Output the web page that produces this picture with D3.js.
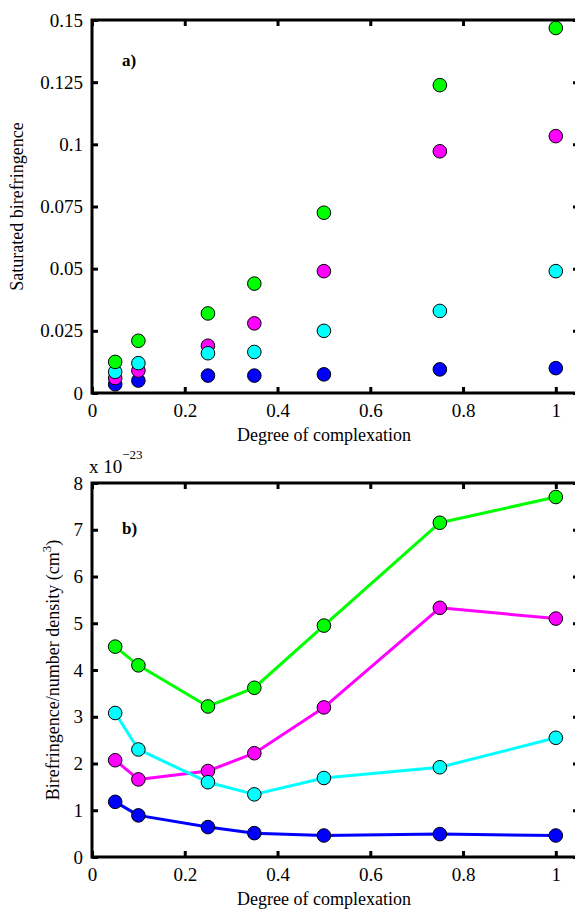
<!DOCTYPE html>
<html>
<head>
<meta charset="utf-8">
<script src="https://cdn.jsdelivr.net/npm/d3@7"></script>
<style>
  body { margin: 0; background: white; }
</style>
</head>
<body>
<div id="chart"></div>
<script>
// Degree of complexation (x values shared by every series)
const degree = [0.05, 0.1, 0.25, 0.35, 0.5, 0.75, 1]

// Panel a) saturated birefringence
const satGreen   = [0.0125, 0.021, 0.032, 0.044, 0.0725, 0.1238, 0.1468]
const satMagenta = [0.0060, 0.009, 0.019, 0.028, 0.0490, 0.0972, 0.1033]
const satCyan    = [0.0085, 0.012, 0.016, 0.0165, 0.0250, 0.0330, 0.0490]
const satBlue    = [0.0035, 0.005, 0.007, 0.0070, 0.0075, 0.0095, 0.0100]

// Panel b) birefringence / number density, in units of 1e-23 cm^3
const bndGreen   = [4.50, 4.10, 3.22, 3.62, 4.95, 7.15, 7.70]
const bndMagenta = [2.07, 1.66, 1.84, 2.22, 3.20, 5.33, 5.10]
const bndCyan    = [3.08, 2.30, 1.60, 1.34, 1.69, 1.92, 2.55]
const bndBlue    = [1.18, 0.89, 0.64, 0.51, 0.46, 0.49, 0.46]

const xTicks = [0, 0.2, 0.4, 0.6, 0.8, 1]
const xTickLabels = ["0", "0.2", "0.4", "0.6", "0.8", "1"]
const yTicksA = [0, 0.025, 0.05, 0.075, 0.1, 0.125, 0.15]
const yTickLabelsA = ["0", "0.025", "0.05", "0.075", "0.1", "0.125", "0.15"]
const yTicksB = [0, 1, 2, 3, 4, 5, 6, 7, 8]

const colors = {green: "#00ff00", magenta: "#ff00ff", cyan: "#00ffff", blue: "#0000ff"}

const FONT = "'Liberation Serif', 'Times New Roman', Times, 'DejaVu Serif', serif"

const W = 575, H = 909
const svg = d3.select("#chart").append("svg")
    .attr("width", W)
    .attr("height", H)
    .style("font-family", FONT)

const left = 92, right = 579

const x = d3.scaleLinear().domain([0, 1.05]).range([left, right])

function txt(sel, size) {
  return sel.style("font-family", FONT).style("font-size", size + "px").attr("fill", "#000")
}

function panel(opts) {
  const y = d3.scaleLinear().domain(opts.ydomain).range([opts.bottom, opts.top])
  const g = svg.append("g")

  // box
  g.append("rect")
      .attr("x", left).attr("y", opts.top)
      .attr("width", right - left).attr("height", opts.bottom - opts.top)
      .attr("fill", "none").attr("stroke", "#000").attr("stroke-width", 3)

  const fmtX = (d, i) => xTickLabels[i]
  const bottomAx = g.append("g")
      .attr("transform", `translate(0,${opts.bottom})`)
      .call(d3.axisBottom(x).tickValues(xTicks).tickFormat(fmtX).tickSizeInner(-6).tickSizeOuter(0).tickPadding(11))
  const topAx = g.append("g")
      .attr("transform", `translate(0,${opts.top})`)
      .call(d3.axisTop(x).tickValues(xTicks).tickFormat("").tickSizeInner(-6).tickSizeOuter(0))
  const leftAx = g.append("g")
      .attr("transform", `translate(${left},0)`)
      .call(d3.axisLeft(y).tickValues(opts.yticks).tickFormat(opts.yfmt).tickSizeInner(-6).tickSizeOuter(0).tickPadding(9))
  const rightAx = g.append("g")
      .attr("transform", `translate(${right},0)`)
      .call(d3.axisRight(y).tickValues(opts.yticks).tickFormat("").tickSizeInner(-6).tickSizeOuter(0))

  ;[bottomAx, topAx, leftAx, rightAx].forEach(a => {
    a.attr("font-family", null).attr("font-size", null)
    a.select(".domain").remove()
    a.selectAll(".tick line").attr("stroke", "#000").attr("stroke-width", 3)
    a.selectAll(".tick text").call(txt, 19)
  })

  // x title
  g.append("text")
      .attr("x", 324).attr("y", opts.bottom + 48)
      .attr("text-anchor", "middle")
      .call(txt, 18)
      .text("Degree of complexation")

  // panel letter
  g.append("text")
      .attr("x", 122).attr("y", opts.top + opts.letterDy)
      .call(txt, 17).style("font-weight", "bold")
      .text(opts.letter)

  const series = g.append("g")
  opts.series.forEach(s => {
    const pts = degree.map((d, i) => ({x: d, y: s.values[i]}))
    if (opts.lines) {
      series.append("path")
          .datum(pts)
          .attr("fill", "none")
          .attr("stroke", s.color)
          .attr("stroke-width", 3)
          .attr("stroke-linejoin", "round")
          .attr("d", d3.line().x(d => x(d.x)).y(d => y(d.y)))
    }
  })
  opts.series.forEach(s => {
    const pts = degree.map((d, i) => ({x: d, y: s.values[i]}))
    series.selectAll(null)
      .data(pts)
      .join("circle")
        .attr("cx", d => x(d.x))
        .attr("cy", d => y(d.y))
        .attr("r", 6.8)
        .attr("fill", s.color)
        .attr("stroke", "#000")
        .attr("stroke-width", 1)
  })
  return {g, y}
}

// Panel a
const pa = panel({
  top: 20, bottom: 393, ydomain: [0, 0.15],
  yticks: yTicksA, yfmt: (d, i) => yTickLabelsA[i],
  letter: "a)", letterDy: 46, lines: false,
  series: [
    {color: colors.blue, values: satBlue},
    {color: colors.magenta, values: satMagenta},
    {color: colors.cyan, values: satCyan},
    {color: colors.green, values: satGreen}
  ]
})
pa.g.append("text")
    .attr("transform", `translate(23,${(20 + 393) / 2}) rotate(-90)`)
    .attr("text-anchor", "middle")
    .call(txt, 18)
    .text("Saturated birefringence")

// Panel b
const pb = panel({
  top: 483, bottom: 857, ydomain: [0, 8],
  yticks: yTicksB, yfmt: d3.format("d"),
  letter: "b)", letterDy: 51, lines: true,
  series: [
    {color: colors.green, values: bndGreen},
    {color: colors.magenta, values: bndMagenta},
    {color: colors.cyan, values: bndCyan},
    {color: colors.blue, values: bndBlue}
  ]
})
const yl = pb.g.append("text")
    .attr("transform", `translate(59,${(483 + 857) / 2}) rotate(-90)`)
    .attr("text-anchor", "middle")
    .call(txt, 18)
yl.append("tspan").text("Birefringence/number density (cm")
yl.append("tspan").attr("dy", -8).style("font-size", "13px").text("3")
yl.append("tspan").attr("dy", 8).text(")")

// exponent label
const ex = pb.g.append("text")
    .attr("x", 89).attr("y", 473)
    .call(txt, 19)
ex.append("tspan").text("x 10")
ex.append("tspan").attr("dy", -14).style("font-size", "13px").text("\u221223")
</script>
</body>
</html>
